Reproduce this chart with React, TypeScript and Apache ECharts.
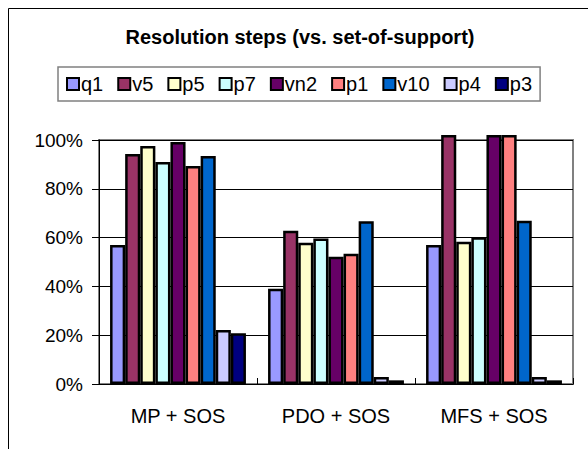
import React, { useEffect, useRef } from "react";
import * as echarts from "echarts";

const categories = ["MP + SOS", "PDO + SOS", "MFS + SOS"];
const seriesNames = ["q1", "v5", "p5", "p7", "vn2", "p1", "v10", "p4", "p3"];
const q1 = [57, 39, 57];
const v5 = [94.3, 62.8, 102];
const p5 = [97.5, 57.9, 58.3];
const p7 = [91, 59.6, 60.1];
const vn2 = [99.2, 52.2, 102];
const p1 = [89.3, 53.4, 102];
const v10 = [93.4, 66.7, 66.9];
const p4 = [22.1, 2.9, 2.9];
const p3 = [20.8, 1.5, 1.5];
const seriesValues = [q1, v5, p5, p7, vn2, p1, v10, p4, p3];
const colors = ["#9999FF", "#993366", "#FFFFCC", "#CCFFFF", "#660066", "#FF8080", "#0066CC", "#CCCCFF", "#000080"];
const yTicks = { min: 0, max: 100, interval: 20 };
const title = "Resolution steps (vs. set-of-support)";

const FONT = "'Liberation Sans', Arial, sans-serif";

export default function App() {
  const ref = useRef<HTMLDivElement>(null);
  useEffect(() => {
    document.body.style.margin = "0";
    const chart = echarts.init(ref.current!, null, { renderer: "svg" });
    chart.setOption({
      animation: false,
      backgroundColor: "#ffffff",
      textStyle: { fontFamily: FONT },
      graphic: [
        { type: "line", shape: { x1: 8.5, y1: 8.5, x2: 600, y2: 8.5 }, style: { stroke: "#000", lineWidth: 1 }, z: 100 },
        { type: "line", shape: { x1: 8.5, y1: 8.5, x2: 8.5, y2: 460 }, style: { stroke: "#000", lineWidth: 1 }, z: 100 },
        {
          type: "text",
          x: 300,
          y: 37,
          style: {
            text: title,
            textAlign: "center",
            textVerticalAlign: "middle",
            font: `bold 20px ${FONT}`,
            fill: "#000",
          },
        },
      ],
      legend: {
        left: 58,
        top: 67,
        orient: "horizontal",
        itemWidth: 12,
        itemHeight: 12,
        itemGap: 14,
        padding: [7, 8],
        borderColor: "#808080",
        borderWidth: 1.5,
        icon: "rect",
        itemStyle: { borderColor: "#000", borderWidth: 2 },
        textStyle: { fontSize: 20, color: "#000", fontFamily: FONT, padding: [0, 0, 0, -3] },
        data: seriesNames,
      },
      grid: {
        left: 99,
        right: 15,
        top: 140,
        bottom: 65,
        show: true,
        borderColor: "#808080",
        borderWidth: 2,
        backgroundColor: "transparent",
      },
      xAxis: {
        type: "category",
        data: categories,
        axisLine: { show: true, lineStyle: { color: "#000", width: 1 } },
        axisTick: { show: true, inside: true, length: 6, lineStyle: { color: "#000" } },
        axisLabel: { fontSize: 20, color: "#000", margin: 22, fontFamily: FONT },
        splitLine: { show: false },
      },
      yAxis: {
        type: "value",
        min: yTicks.min,
        max: yTicks.max,
        interval: yTicks.interval,
        axisLine: { show: true, lineStyle: { color: "#000", width: 1 } },
        axisTick: { show: true, inside: false, length: 7, lineStyle: { color: "#000" } },
        axisLabel: { fontSize: 19, color: "#000", margin: 16, formatter: "{value}%", fontFamily: FONT },
        splitLine: { show: true, lineStyle: { color: "#000", width: 1 } },
      },
      series: seriesNames.map((name, i) => ({
        name,
        type: "bar",
        data: seriesValues[i],
        barGap: "0%",
        barCategoryGap: "14%",
        clip: false,
        itemStyle: { color: colors[i], borderColor: "#000", borderWidth: 2.5 },
      })),
    });
    return () => chart.dispose();
  }, []);
  return <div ref={ref} style={{ width: 588, height: 449 }} />;
}
